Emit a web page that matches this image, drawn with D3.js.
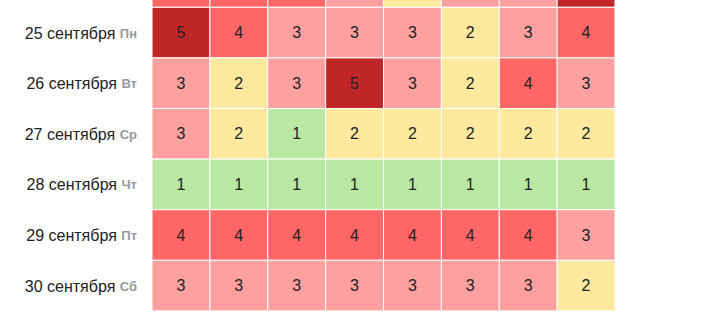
<!DOCTYPE html>
<html><head><meta charset="utf-8">
<script src="https://cdn.jsdelivr.net/npm/d3@7"></script>
<style>body{margin:0;background:#fff;overflow:hidden}</style>
</head><body><svg id="c" width="710" height="312"></svg>
<script>
const dates = ["24 сентября","25 сентября","26 сентября","27 сентября","28 сентября","29 сентября","30 сентября"];
const weekdays = ["Вс","Пн","Вт","Ср","Чт","Пт","Сб"];
const columns = [0,1,2,3,4,5,6,7];
const row24 = [4,4,4,3,2,3,3,5];
const row25 = [5,4,3,3,3,2,3,4];
const row26 = [3,2,3,5,3,2,4,3];
const row27 = [3,2,1,2,2,2,2,2];
const row28 = [1,1,1,1,1,1,1,1];
const row29 = [4,4,4,4,4,4,4,3];
const row30 = [3,3,3,3,3,3,3,2];
const levels = [1,2,3,4,5];
const levelColors = ["#b8e8a1","#ffe99f","#ffa0a0","#ff6666","#c02627"];

const rows = [row24,row25,row26,row27,row28,row29,row30];
const cells = [];
rows.forEach((r,i)=>r.forEach((v,j)=>cells.push({d:dates[i],c:columns[j],v})));

const svg = d3.select("#c");
const x = d3.scaleBand().domain(columns).range([152,615]);
const y = d3.scaleBand().domain(dates).range([-43.3,310.9]);
const color = d3.scaleOrdinal().domain(levels).range(levelColors);
// the first row is scrolled mostly out of view: only its cell colours show
const visible = d => y(d) >= 0;

svg.selectAll("rect.cell").data(cells).join("rect")
  .attr("class","cell")
  .attr("x",d=>x(d.c)).attr("y",d=>y(d.d))
  .attr("width",x.bandwidth()).attr("height",y.bandwidth())
  .attr("fill",d=>color(d.v))
  .attr("stroke","#fff").attr("stroke-width",1);

svg.selectAll("text.val").data(cells.filter(c=>visible(c.d))).join("text")
  .attr("class","val")
  .attr("x",d=>x(d.c)+x.bandwidth()/2)
  .attr("y",d=>y(d.d)+y.bandwidth()/2)
  .attr("text-anchor","middle").attr("dominant-baseline","central")
  .attr("font-family","Liberation Sans, Arial, sans-serif")
  .attr("font-size",16).attr("fill","#222")
  .text(d=>d.v);

const lab = svg.selectAll("text.lab").data(dates.filter(visible)).join("text")
  .attr("class","lab")
  .attr("x",137)
  .attr("y",d=>y(d)+y.bandwidth()/2)
  .attr("text-anchor","end").attr("dominant-baseline","central")
  .attr("font-family","Liberation Sans, Arial, sans-serif");
lab.append("tspan").attr("font-size",16).attr("fill","#222").text(d=>d+" ");
lab.append("tspan").attr("font-size",13).attr("font-weight","bold").attr("fill","#999")
  .text(d=>weekdays[dates.indexOf(d)]);
</script></body></html>
